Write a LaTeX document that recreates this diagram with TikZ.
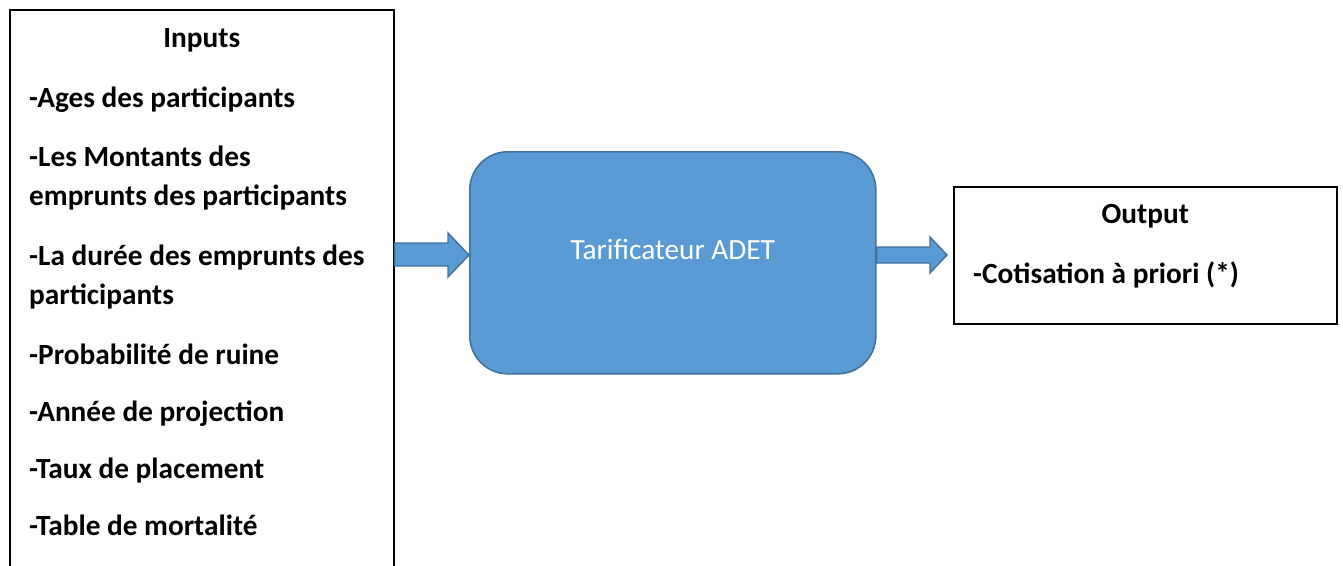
\documentclass[tikz,border=0pt]{standalone}
\usepackage{fontspec}
\setmainfont{Carlito}
\usetikzlibrary{calc}
\definecolor{boxblue}{HTML}{5B9BD5}
\definecolor{boxedge}{HTML}{41719C}
\begin{document}
\begin{tikzpicture}[x=1pt,y=-1pt,
  frame/.style={draw=black,line width=1.6pt,inner sep=0pt,anchor=north west},
  txt/.style={font=\fontsize{29.3}{35}\selectfont\bfseries,inner sep=0pt,anchor=base west},
  ttl/.style={font=\fontsize{29.3}{35}\selectfont\bfseries,inner sep=0pt,anchor=base},
  blockarrow/.style={fill=boxblue,draw=boxedge,line width=1.4pt,line join=miter}]
\useasboundingbox (0,0) rectangle (1343,565);
\clip (0,0) rectangle (1343,565);
\fill[white] (0,0) rectangle (1343,565);
% boxes
\node[frame,minimum width=384pt,minimum height=580pt] (inputs) at (9,9) {};
\node[draw=boxedge,fill=boxblue,line width=1.6pt,rounded corners=38pt,
      minimum width=406pt,minimum height=222pt,anchor=north west] (tarif) at (469,151) {};
\node[frame,minimum width=383pt,minimum height=137pt] (outbox) at (953,186) {};
% inputs text
\node[ttl] (tin) at (inputs.north |- 0,47) {Inputs};
\node[txt] (t1) at (29,107) {-Ages des participants};
\node[txt] (t2) at (29,166) {-Les Montants des};
\node[txt] (t2b) at (29,205) {emprunts des participants};
\node[txt] (t3) at (29,265) {-La durée des emprunts des};
\node[txt] (t3b) at (29,304) {participants};
\node[txt] (t4) at (29,364) {-Probabilité de ruine};
\node[txt] (t5) at (29,421) {-Année de projection};
\node[txt] (t6) at (29,478) {-Taux de placement};
\node[txt] (t7) at (29,535) {-Table de mortalité};
% middle text
\node[font=\fontsize{29.3}{35}\selectfont,text=white,inner sep=0pt,anchor=base] (ttar) at (tarif.center |- 0,259) {Tarificateur ADET};
% output text
\node[ttl] (tout) at (outbox.north |- 0,223) {Output};
\node[txt] (o1) at (973,283) {-Cotisation à priori (*)};
% arrows
\draw[blockarrow] (inputs.east |- 0,243) -- (448,243) -- (448,233)
  -- (tarif.west |- 0,255) -- (448,277) -- (448,266) -- (inputs.east |- 0,266) -- cycle;
\draw[blockarrow] (tarif.east |- 0,247) -- (930,247) -- (930,237)
  -- ($(outbox.west |- 0,255)+(-6,0)$) -- (930,273) -- (930,263) -- (tarif.east |- 0,263) -- cycle;
\end{tikzpicture}
\end{document}
